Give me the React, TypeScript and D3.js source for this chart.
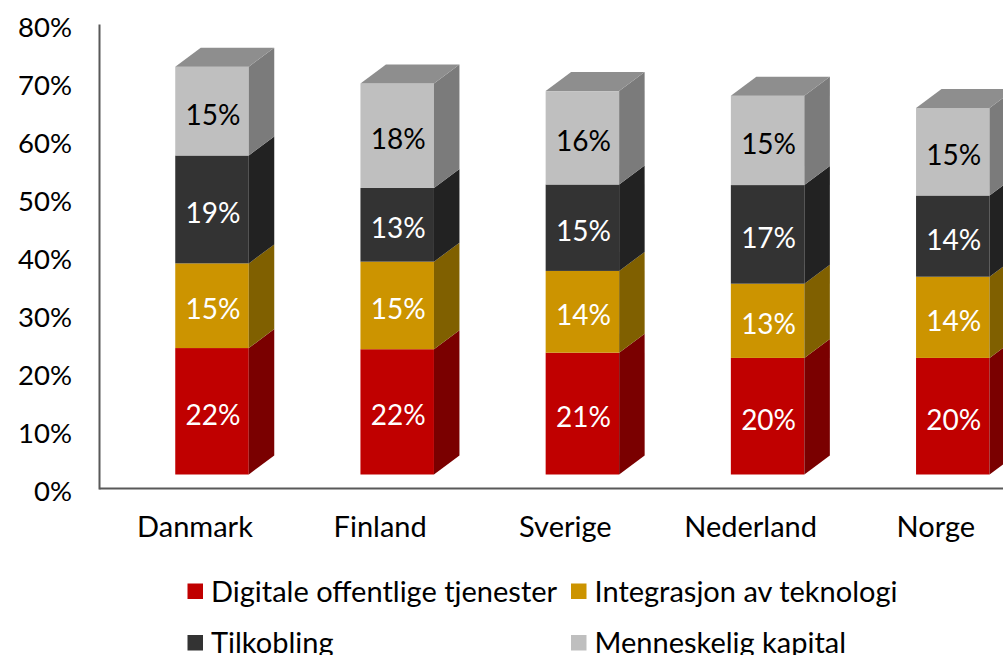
import React from "react";
import * as d3 from "d3";

const countries = ["Danmark", "Finland", "Sverige", "Nederland", "Norge"];
const series = ["Digitale offentlige tjenester", "Integrasjon av teknologi", "Tilkobling", "Menneskelig kapital"];
const digitale = [21.8, 21.6, 21.0, 20.1, 20.1];
const integrasjon = [14.6, 15.1, 14.1, 12.8, 14.0];
const tilkobling = [18.6, 12.7, 14.9, 17.0, 14.0];
const menneskelig = [15.3, 18.0, 16.1, 15.4, 15.1];
const yTicks = [0, 10, 20, 30, 40, 50, 60, 70, 80];

// front / side / top colours per series
const front = ["#C00000", "#CC9400", "#333333", "#BFBFBF"];
const side = ["#7A0000", "#806000", "#222222", "#7B7B7B"];
const topFace = ["#7E0000", "#866300", "#262626", "#8E8E8E"];
const labelColor = ["#fff", "#fff", "#fff", "#000"];

const W = 1003, H = 655;
const font = "Lato, 'Open Sans', sans-serif";

export default function App() {
  const rows = countries.map((c, i) => ({
    country: c,
    s0: digitale[i], s1: integrasjon[i], s2: tilkobling[i], s3: menneskelig[i],
  }));
  const stacked = d3.stack<any>().keys(["s0", "s1", "s2", "s3"])(rows);

  const y = d3.scaleLinear().domain([0, 80]).range([488.5, 24.5]);
  const x = d3.scaleBand().domain(countries).range([102.4, 1028.4]);

  // 3D offsets
  const shiftX = 17, shiftY = -14; // front face relative to axis plane
  const dx = 25.5, dy = -19;
  const barW = 73.5;

  const faces: JSX.Element[] = [];
  const labels: JSX.Element[] = [];
  countries.forEach((c, i) => {
    const cx = (x(c) as number) + x.bandwidth() / 2 + shiftX;
    const x0 = cx - barW / 2, x1 = cx + barW / 2;
    stacked.forEach((layer, k) => {
      const d = layer[i];
      const yb = y(d[0]) + shiftY, yt = y(d[1]) + shiftY;
      faces.push(<rect key={`f${i}${k}`} x={x0} y={yt} width={barW} height={yb - yt} fill={front[k]} />);
      faces.push(
        <path key={`s${i}${k}`}
          d={`M${x1},${yb}L${x1 + dx},${yb + dy}L${x1 + dx},${yt + dy}L${x1},${yt}Z`}
          fill={side[k]} />
      );
      if (k === stacked.length - 1) {
        faces.push(
          <path key={`t${i}`}
            d={`M${x0},${yt}L${x0 + dx},${yt + dy}L${x1 + dx},${yt + dy}L${x1},${yt}Z`}
            fill={topFace[k]} />
        );
      }
      labels.push(
        <text key={`l${i}${k}`} x={cx + 1} y={(yb + yt) / 2 + 13.5} textAnchor="middle"
          fill={labelColor[k]} fontSize={28}>
          {d3.format(".0f")(d[1] - d[0])}%
        </text>
      );
    });
  });

  return (
    <svg width={W} height={H} style={{ position: "absolute", left: 0, top: 0, background: "#fff" }}
      fontFamily={font}>
      {yTicks.map((t) => (
        <text key={t} x={72} y={y(t) + 12} textAnchor="end" fontSize={27.5} fill="#000">{t}%</text>
      ))}
      {faces}
      {labels}
      <line x1={99.5} x2={99.5} y1={y(80)} y2={489.5} stroke="#595959" strokeWidth={2} />
      <line x1={99.5} x2={W} y1={488.5} y2={488.5} stroke="#595959" strokeWidth={2} />
      {countries.map((c) => (
        <text key={c} x={(x(c) as number) + x.bandwidth() / 2} y={537} textAnchor="middle" fontSize={29} fill="#000">{c}</text>
      ))}
      {series.map((s, k) => {
        const lx = k % 2 === 0 ? 187.5 : 571;
        const ly = k < 2 ? 583.5 : 635;
        return (
          <g key={s}>
            <rect x={lx} y={ly} width={15.5} height={15.5} fill={front[k]} />
            <text x={lx + 23.5} y={ly + 18} fontSize={29} fill="#000">{s}</text>
          </g>
        );
      })}
    </svg>
  );
}
